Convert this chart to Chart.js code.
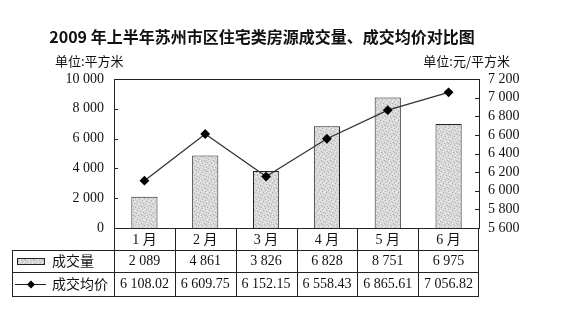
<!DOCTYPE html>
<html>
<head>
<meta charset="utf-8">
<script src="https://cdn.jsdelivr.net/npm/chart.js@4.4.1/dist/chart.umd.min.js"></script>
<style>
  html, body { margin: 0; padding: 0; background: #fff; }
  #wrap { width: 567px; height: 321px; }
</style>
</head>
<body>
<div id="wrap"><canvas id="grafico" width="567" height="321"></canvas></div>
<script>
const meses = ["1 月", "2 月", "3 月", "4 月", "5 月", "6 月"];
const volume = [2089, 4861, 3826, 6828, 8751, 6975];
const precoMedio = [6108.02, 6609.75, 6152.15, 6558.43, 6865.61, 7056.82];
const volumeTexto = ["2 089", "4 861", "3 826", "6 828", "8 751", "6 975"];
const precoTexto = ["6 108.02", "6 609.75", "6 152.15", "6 558.43", "6 865.61", "7 056.82"];

const titulo = "2009 年上半年苏州市区住宅类房源成交量、成交均价对比图";
const unidadeEsq = "单位:平方米";
const unidadeDir = "单位:元/平方米";
const nomeVolume = "成交量";
const nomePreco = "成交均价";

const fonteSerif = '"Liberation Serif", "Noto Sans CJK SC", serif';
const fonteCJK = '"Noto Sans CJK SC", sans-serif';

function espacoMilhar(v) {
  return String(v).replace(/\B(?=(\d{3})+(?!\d))/g, " ");
}

// textura pontilhada das barras
function criarTextura(ctx) {
  const c = document.createElement("canvas");
  c.width = 9; c.height = 9;
  const g = c.getContext("2d");
  g.fillStyle = "#d9d9d9";
  g.fillRect(0, 0, 9, 9);
  g.fillStyle = "#b0b0b0";
  [[0, 0], [4, 1], [7, 2], [2, 3], [5, 4], [8, 5], [1, 6], [6, 7], [3, 8], [7, 8]]
    .forEach(p => g.fillRect(p[0], p[1], 1, 1));
  g.fillStyle = "#efefef";
  [[2, 0], [6, 1], [0, 3], [4, 5], [7, 6], [2, 7], [5, 2], [8, 3]]
    .forEach(p => g.fillRect(p[0], p[1], 1, 1));
  return ctx.createPattern(c, "repeat");
}

const pluginTabela = {
  id: "tabela",
  afterDraw(chart) {
    const ctx = chart.ctx;
    const a = chart.chartArea;
    const x = chart.scales.x;
    const yL = chart.scales.y;
    const yR = chart.scales.y1;
    ctx.save();

    // titulo e unidades
    ctx.fillStyle = "#111";
    ctx.font = "bold 16px " + fonteCJK;
    ctx.textAlign = "center";
    ctx.textBaseline = "middle";
    ctx.fillText(titulo, 262, 37);
    ctx.font = "13px " + fonteCJK;
    ctx.textAlign = "left";
    ctx.fillText(unidadeEsq, 55, 61);
    ctx.textAlign = "right";
    ctx.fillText(unidadeDir, 510, 61);

    // borda superior do grafico
    ctx.strokeStyle = "#222";
    ctx.lineWidth = 1;
    ctx.beginPath();
    ctx.moveTo(a.left, a.top + 0.5);
    ctx.lineTo(a.right, a.top + 0.5);
    ctx.stroke();

    // marcas internas dos eixos
    ctx.beginPath();
    yL.ticks.forEach(t => {
      const py = Math.round(yL.getPixelForValue(t.value)) + 0.5;
      ctx.moveTo(a.left, py); ctx.lineTo(a.left + 4, py);
    });
    yR.ticks.forEach(t => {
      const py = Math.round(yR.getPixelForValue(t.value)) + 0.5;
      ctx.moveTo(a.right, py); ctx.lineTo(a.right - 4, py);
    });
    ctx.stroke();

    // grade da tabela
    const linhas = [a.bottom, 250, 272, 296];
    const esq = 12;
    ctx.beginPath();
    ctx.moveTo(esq, linhas[1] + 0.5); ctx.lineTo(a.right, linhas[1] + 0.5);
    ctx.moveTo(esq, linhas[2] + 0.5); ctx.lineTo(a.right, linhas[2] + 0.5);
    ctx.moveTo(esq, linhas[3] + 0.5); ctx.lineTo(a.right, linhas[3] + 0.5);
    ctx.moveTo(esq + 0.5, linhas[1]); ctx.lineTo(esq + 0.5, linhas[3]);
    ctx.moveTo(a.left + 0.5, a.bottom); ctx.lineTo(a.left + 0.5, linhas[3]);
    ctx.moveTo(a.right - 0.5, a.bottom); ctx.lineTo(a.right - 0.5, linhas[3]);
    for (let i = 0; i < meses.length - 1; i++) {
      const sx = Math.round((x.getPixelForValue(i) + x.getPixelForValue(i + 1)) / 2) + 0.5;
      ctx.moveTo(sx, a.bottom); ctx.lineTo(sx, linhas[3]);
    }
    ctx.stroke();

    // valores
    ctx.fillStyle = "#111";
    ctx.font = "14px " + fonteSerif;
    ctx.textAlign = "center";
    ctx.textBaseline = "middle";
    for (let i = 0; i < meses.length; i++) {
      const cx = x.getPixelForValue(i);
      ctx.fillText(volumeTexto[i], cx, 261);
      ctx.fillText(precoTexto[i], cx, 284);
    }

    // legenda na tabela
    ctx.fillStyle = criarTextura(ctx);
    ctx.fillRect(17, 258, 28, 7);
    ctx.strokeStyle = "#222";
    ctx.strokeRect(17.5, 258.5, 27, 6);
    ctx.beginPath();
    ctx.moveTo(15, 284.5); ctx.lineTo(46, 284.5);
    ctx.stroke();
    ctx.fillStyle = "#000";
    ctx.beginPath();
    ctx.moveTo(31, 280.5); ctx.lineTo(35, 284.5); ctx.lineTo(31, 288.5); ctx.lineTo(27, 284.5);
    ctx.closePath(); ctx.fill();
    ctx.fillStyle = "#111";
    ctx.font = "14px " + fonteCJK;
    ctx.textAlign = "left";
    ctx.fillText(nomeVolume, 52, 261);
    ctx.fillText(nomePreco, 52, 284);

    ctx.restore();
  }
};

const ctx = document.getElementById("grafico").getContext("2d");
const textura = criarTextura(ctx);

new Chart(ctx, {
  data: {
    labels: meses,
    datasets: [
      {
        type: "line",
        label: nomePreco,
        data: precoMedio,
        yAxisID: "y1",
        borderColor: "#333",
        borderWidth: 1.3,
        pointStyle: "rectRot",
        pointRadius: 4,
        pointBackgroundColor: "#000",
        pointBorderColor: "#000",
        tension: 0,
        order: 0
      },
      {
        type: "bar",
        label: nomeVolume,
        data: volume,
        yAxisID: "y",
        backgroundColor: textura,
        borderColor: "#222",
        borderWidth: 1,
        barPercentage: 0.43,
        categoryPercentage: 1,
        order: 1
      }
    ]
  },
  options: {
    responsive: false,
    animation: false,
    layout: { padding: { top: 79, bottom: 25, left: 0, right: 0 } },
    plugins: {
      legend: { display: false },
      title: { display: false },
      tooltip: { enabled: false }
    },
    scales: {
      x: {
        grid: { display: false, drawTicks: false },
        border: { display: true, color: "#222" },
        ticks: { color: "#111", padding: 4, font: { family: fonteSerif, size: 14 } },
        afterFit: s => { s.height = 68; }
      },
      y: {
        position: "left",
        min: 0, max: 10000,
        grid: { display: false, drawTicks: false },
        border: { display: true, color: "#222" },
        ticks: {
          stepSize: 2000, padding: 10, color: "#111", autoSkip: false,
          font: { family: fonteSerif, size: 14 },
          callback: v => espacoMilhar(v)
        },
        afterFit: s => { s.width = 114; }
      },
      y1: {
        position: "right",
        min: 5600, max: 7200,
        grid: { display: false, drawTicks: false },
        border: { display: true, color: "#222" },
        ticks: {
          stepSize: 200, padding: 9, color: "#111", autoSkip: false,
          font: { family: fonteSerif, size: 14 },
          callback: v => espacoMilhar(v)
        },
        afterFit: s => { s.width = 88; }
      }
    }
  },
  plugins: [pluginTabela]
});
</script>
</body>
</html>
